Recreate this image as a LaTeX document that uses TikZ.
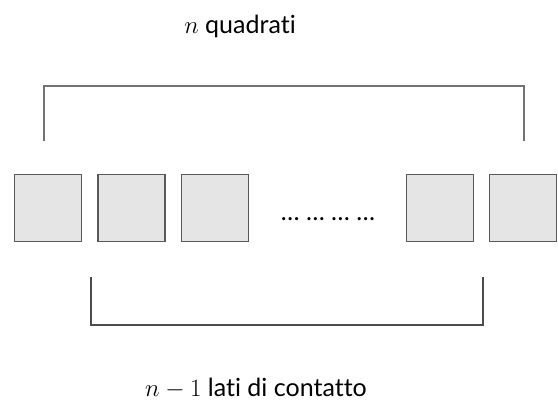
\documentclass[tikz,border=0pt]{standalone}
\usepackage{fontspec}
\setmainfont[Ligatures=NoCommon]{Lato}
\begin{document}
\begin{tikzpicture}[x=1pt,y=-1pt,
  sq/.style={draw=black!65,line width=1.3pt,fill=black!10,minimum size=67pt,inner sep=0pt},
  brace/.style={draw=black!55,line width=1.3pt},
  lbl/.style={font=\fontsize{25}{30}\selectfont,inner sep=0pt}]
\useasboundingbox (0,0) rectangle (558,401);
% row of squares
\node[sq] (s1) at (48,208) {};
\node[sq] (s2) at (131.5,208) {};
\node[sq] (s3) at (215,208) {};
\node[sq] (s4) at (440,208) {};
\node[sq] (s5) at (523,208) {};
\node[inner sep=0pt,anchor=base,font=\fontsize{25}{30}\selectfont] (dots) at (328,221) {\dots\ \dots\ \dots\ \dots};
% upper bracket over all n squares
\coordinate (ta) at (44,141);
\coordinate (tb) at (524,141);
\draw[brace] (ta) -- (44,86) -- (524,86) -- (tb);
% lower bracket under the n-1 contact sides
\coordinate (ba) at (91,277);
\coordinate (bb) at (483,277);
\draw[brace,draw=black!70] (ba) -- (91,325) -- (483,325) -- (bb);
% labels
\node[lbl,anchor=base] (top) at (240,34) {$n$ quadrati};
\node[lbl,anchor=base] (bot) at (256,396) {$n-1$ lati di contatto};
\end{tikzpicture}
\end{document}
